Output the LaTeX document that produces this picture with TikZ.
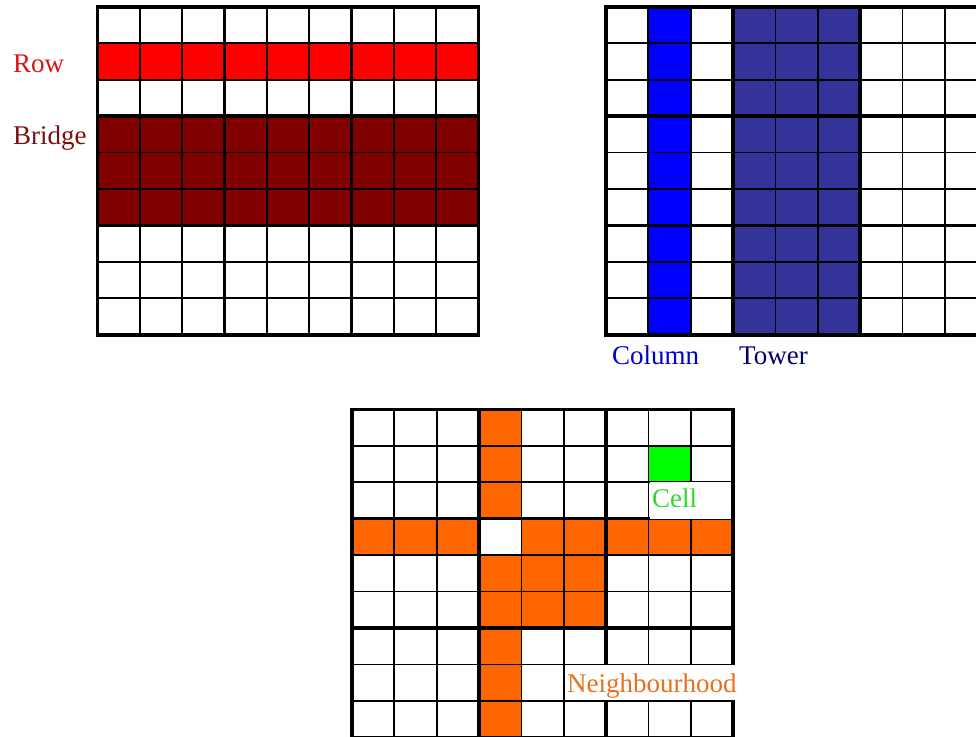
\documentclass[tikz,border=0pt]{standalone}
\usepackage{fontspec}
\setmainfont{Liberation Serif}

\definecolor{rowred}{HTML}{FF0000}
\definecolor{bridgered}{HTML}{800000}
\definecolor{columnblue}{HTML}{0000FF}
\definecolor{towerblue}{HTML}{333399}
\definecolor{nborange}{HTML}{FF6600}
\definecolor{cellgreen}{HTML}{00FF00}
\definecolor{rowtext}{HTML}{D81414}
\definecolor{bridgetext}{HTML}{781010}
\definecolor{columntext}{HTML}{0000CC}
\definecolor{towertext}{HTML}{000070}
\definecolor{celltext}{HTML}{30D830}
\definecolor{nbtext}{HTML}{E8701E}

\tikzset{
  thinline/.style={line width=1.8pt, black},
  thickline/.style={line width=3.6pt, black},
  gridlabel/.style={font=\fontsize{27}{30}\selectfont, inner sep=0pt, anchor=base west},
  whitelabel/.style={gridlabel, fill=white, inner xsep=2pt, align=left}
}

% 9x9 grid with thick box lines, in cell units
\newcommand{\sudokugrid}{%
  \foreach \i in {1,2,4,5,7,8} {
    \draw[thinline] (\i,0) -- (\i,9);
    \draw[thinline] (0,\i) -- (9,\i);
  }
  \foreach \i in {3,6} {
    \draw[thickline] (\i,0) -- (\i,9);
    \draw[thickline] (0,\i) -- (9,\i);
  }
  \draw[thickline] (0,0) rectangle (9,9);
}

\begin{document}
\begin{tikzpicture}[x=1pt, y=-1pt]
\useasboundingbox (0,0) rectangle (976,736);
\clip (0,0) rectangle (976,736);

% row and bridge
\begin{scope}[shift={(97.5,6.7)}, x=42.35pt, y=-36.45pt]
  \fill[rowred] (0,1) rectangle (9,2);
  \fill[bridgered] (0,3) rectangle (9,6);
  \sudokugrid
\end{scope}

% column and tower
\begin{scope}[shift={(606,6.7)}, x=42.35pt, y=-36.45pt]
  \fill[columnblue] (1,0) rectangle (2,9);
  \fill[towerblue] (3,0) rectangle (6,9);
  \sudokugrid
\end{scope}

% cell and its neighbourhood
\begin{scope}[shift={(352,409.3)}, x=42.35pt, y=-36.45pt]
  \fill[nborange] (3,0) rectangle (4,3);
  \fill[nborange] (3,4) rectangle (4,9);
  \fill[nborange] (0,3) rectangle (3,4);
  \fill[nborange] (4,3) rectangle (9,4);
  \fill[nborange] (4,4) rectangle (6,6);
  \fill[cellgreen] (7,1) rectangle (8,2);
  \sudokugrid
\end{scope}

\node[gridlabel, text=rowtext] (row) at (13,72.5) {Row};
\node[gridlabel, text=bridgetext] (bridge) at (13,144.5) {Bridge};
\node[gridlabel, text=columntext] (column) at (612,364) {Column};
\node[gridlabel, text=towertext] (tower) at (739,364) {Tower};
\node[whitelabel, text=celltext, text height=25.5pt, text depth=11.5pt,
  text width=77pt] (cell) at (650,507.7) {Cell};
\node[whitelabel, text=nbtext, text height=27pt, text depth=8pt,
  text width=172pt] (nbhood) at (565,692) {Neighbourhood};
\end{tikzpicture}
\end{document}
